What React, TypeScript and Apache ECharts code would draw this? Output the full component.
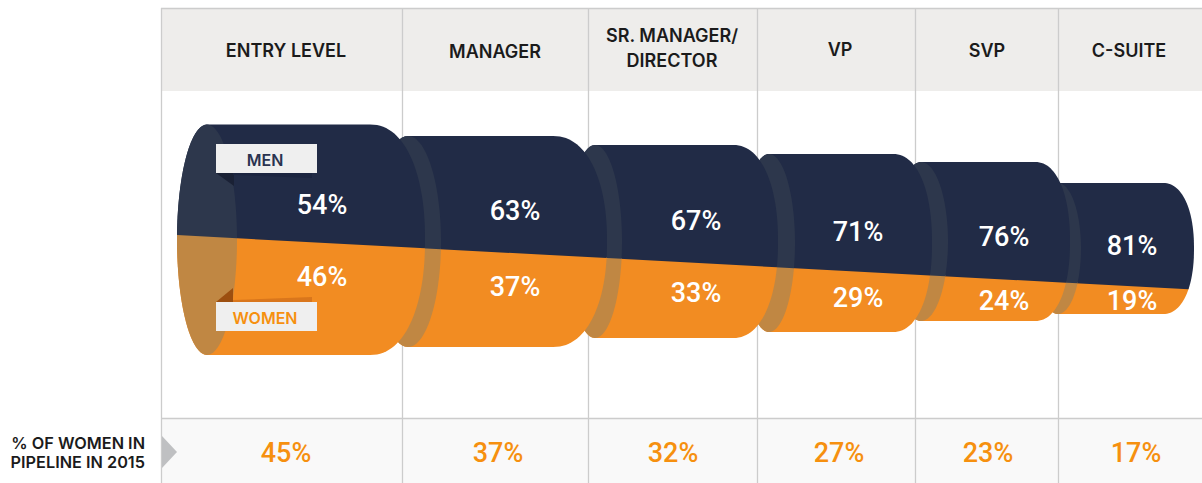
import React, { useEffect, useRef } from "react";
import * as echarts from "echarts";

// ---- chart values ----
const categories = ["ENTRY LEVEL", "MANAGER", "SR. MANAGER/\nDIRECTOR", "VP", "SVP", "C-SUITE"];
const menShare = [54, 63, 67, 71, 76, 81];
const womenShare = [46, 37, 33, 29, 24, 19];
const pipeline2015 = [45, 37, 32, 27, 23, 17];

// ---- layout, in axis units (the axes map 1:1 on the page) ----
const W = 1202;
const H = 483;
const COL_EDGES = [162, 402, 588, 757, 915, 1058, W];
const HEADER_X = [286, 495, 672, 840, 987, 1129];
const HEADER_Y = [50, 51, 48, 49, 50, 50];
const VALUE_X = [322, 515, 696, 858, 1004, 1132];
const BOTTOM_X = [286, 498, 673, 839, 988, 1136];
const MEN_Y = [205, 211, 221, 232, 237, 246];
const WOMEN_Y = [277, 287, 293, 298, 301, 301];
const TOPS = [124.5, 136, 145, 154, 162, 183];
const BOTTOMS = [355, 347, 338, 332, 321, 314];
const CAP_X = [207, 408, 595, 769, 921, 1058];
const CAP_R = [30, 33, 27, 26, 27, 23];
const FLAT_END = [370, 553, 733, 893, 1035, 1163];
const RIGHT_MAX = [425, 607, 778, 932, 1070, 1194];
const SPLIT_Y0 = 235;
const SPLIT_X0 = 177;
const SPLIT_SLOPE = 0.0537;

const NAVY = "#212b46";
const ORANGE = "#f28c22";
const NAVY_CAP = "#2d374c";
const ORANGE_CAP = "#c08743";
const GRID_LINE = "#cccccc";
const PIPE_ORANGE = "#f6900f";
const FONT = "Inter, Lato, 'Noto Sans', sans-serif";
const PCT_FONT = "Roboto, Inter, 'Noto Sans', sans-serif";

type P = [number, number];

const splitY = (x: number) => SPLIT_Y0 + SPLIT_SLOPE * (x - SPLIT_X0);

// keep the part of a polygon on one side of the men/women line (sign -1 above, +1 below)
function clipSide(pts: P[], sign: number, overlap = 0): P[] {
  const out: P[] = [];
  const d = (p: P) => sign * (p[1] - splitY(p[0])) + overlap;
  for (let i = 0; i < pts.length; i++) {
    const a = pts[i];
    const b = pts[(i + 1) % pts.length];
    const da = d(a);
    const db = d(b);
    if (da >= 0) out.push(a);
    if (da < 0 !== db < 0) {
      const t = da / (da - db);
      out.push([a[0] + (b[0] - a[0]) * t, a[1] + (b[1] - a[1]) * t]);
    }
  }
  return out;
}

function quarterArc(cx: number, cy: number, rx: number, ry: number, from: number, to: number, n = 2): P[] {
  const pts: P[] = [];
  const steps = 60;
  for (let i = 0; i <= steps; i++) {
    const a = from + ((to - from) * i) / steps;
    const c = Math.cos(a);
    const s = Math.sin(a);
    pts.push([
      cx + rx * Math.sign(c) * Math.pow(Math.abs(c), 2 / n),
      cy + ry * Math.sign(s) * Math.pow(Math.abs(s), 2 / n),
    ]);
  }
  return pts;
}

function renderBands(_: any, api: any) {
  const i = api.value(0);
  const [x0, y0] = api.coord([COL_EDGES[i], 9]);
  const [x1] = api.coord([COL_EDGES[i + 1], 9]);
  const [, y91] = api.coord([0, 91]);
  const [, y418] = api.coord([0, 418]);
  const [, yEnd] = api.coord([0, H]);
  return {
    type: "group",
    children: [
      { type: "rect", shape: { x: x0, y: y0, width: x1 - x0, height: y91 - y0 }, style: { fill: "#eeedeb" } },
      { type: "rect", shape: { x: x0, y: y418, width: x1 - x0, height: yEnd - y418 }, style: { fill: "#f9f9f9" } },
    ],
  };
}

function renderRules(_: any, api: any) {
  const i = api.value(0);
  const lineX = Math.round(api.coord([COL_EDGES[i + 1], 0])[0]) + 0.5;
  const [, y0] = api.coord([0, 8]);
  const [, yEnd] = api.coord([0, H]);
  if (i === categories.length - 1) return { type: "group", children: [] };
  return { type: "line", shape: { x1: lineX, y1: y0, x2: lineX, y2: yEnd }, style: { stroke: GRID_LINE, lineWidth: 1.3 } };
}

function renderTableText(_: any, api: any) {
  const i = api.value(0);
  return {
    type: "group",
    children: [
      {
        type: "text",
        style: {
          text: categories[i],
          x: api.coord([HEADER_X[i], 0])[0],
          y: api.coord([0, HEADER_Y[i]])[1],
          fill: "#1b1b1b",
          fontFamily: FONT,
          fontWeight: 600,
          fontSize: 18,
          lineHeight: 25,
          align: "center",
          verticalAlign: "middle",
        },
      },
      {
        type: "text",
        style: {
          text: api.value(1) + "%",
          x: api.coord([BOTTOM_X[i], 0])[0],
          y: api.coord([0, 453])[1],
          fill: PIPE_ORANGE,
          fontFamily: PCT_FONT,
          fontWeight: 500,
          fontSize: 27,
          align: "center",
          verticalAlign: "middle",
        },
      },
    ],
  };
}

function renderCylinder(_: any, api: any) {
  const i = api.value(0);
  const top = TOPS[i];
  const bottom = BOTTOMS[i];
  const mid = (top + bottom) / 2;
  const ry = (bottom - top) / 2;
  const cx = CAP_X[i];
  const rx = CAP_R[i];
  const fe = FLAT_END[i];
  const rr = RIGHT_MAX[i] - fe;
  const toPx = (p: P): P => api.coord(p);
  // outline: left half of the cap, bottom edge, rounded right end
  const body: P[] = [
    ...quarterArc(cx, mid, rx, ry, -Math.PI / 2, -Math.PI, 2),
    ...quarterArc(cx, mid, rx, ry, Math.PI, Math.PI / 2, 2),
    ...quarterArc(fe, mid, rr, ry, Math.PI / 2, -Math.PI / 2, 2.2),
  ];
  const cap: P[] = [
    ...quarterArc(cx, mid, rx, ry, -Math.PI / 2, -Math.PI * 1.5, 2),
    ...quarterArc(cx, mid, rx, ry, Math.PI / 2, -Math.PI / 2, 2),
  ];
  const poly = (pts: P[], fill: string) => ({
    type: "polygon",
    shape: { points: pts.map(toPx) },
    style: { fill },
  });
  return {
    type: "group",
    children: [
      poly(clipSide(body, 1, 1), ORANGE),
      poly(clipSide(body, -1), NAVY),
      poly(clipSide(cap, 1, 1), ORANGE_CAP),
      poly(clipSide(cap, -1), NAVY_CAP),
    ],
  };
}

function renderShares(_: any, api: any) {
  const i = api.value(0);
  const label = (value: number, y: number) => ({
    type: "text",
    style: {
      text: value + "%",
      x: api.coord([VALUE_X[i], 0])[0],
      y: api.coord([0, y])[1],
      fill: "#ffffff",
      fontFamily: PCT_FONT,
      fontWeight: 500,
      fontSize: 27,
      align: "center",
      verticalAlign: "middle",
    },
  });
  return { type: "group", children: [label(api.value(1), MEN_Y[i]), label(api.value(2), WOMEN_Y[i])] };
}

export default function App() {
  const ref = useRef<HTMLDivElement>(null);
  useEffect(() => {
    if (!ref.current) return;
    const chart = echarts.init(ref.current, undefined, { renderer: "svg" });
    const hidden = { show: false };
    const order = categories.map((_, i) => i);
    const tableData = order.map((i) => [i, pipeline2015[i]]);
    const shareData = order.map((i) => [i, menShare[i], womenShare[i]]);
    const ribbon = (y: number, text: string, color: string) => [
      { type: "rect", z: 10, shape: { x: 216, y, width: 101, height: 29 }, style: { fill: "#efefef" } },
      {
        type: "text",
        z: 11,
        x: 265,
        y: y + 16,
        style: {
          text,
          fill: color,
          fontFamily: FONT,
          fontWeight: 600,
          fontSize: 16,
          align: "center",
          verticalAlign: "middle",
        },
      },
    ];
    const shadow = (points: number[][], fill: string) => ({ type: "polygon", z: 9, shape: { points }, style: { fill } });
    const frame = (x1: number, y1: number, x2: number, y2: number) => ({
      type: "line",
      z: 3,
      shape: { x1, y1, x2, y2 },
      style: { stroke: GRID_LINE, lineWidth: 1.3 },
    });
    chart.setOption({
      animation: false,
      tooltip: { show: false },
      grid: { left: 0, top: 0, width: W, height: H },
      xAxis: { type: "value", min: 0, max: W, ...hidden },
      yAxis: { type: "value", min: 0, max: H, inverse: true, ...hidden },
      series: [
        { type: "custom", z: 1, silent: true, clip: false, renderItem: renderBands, data: tableData },
        { type: "custom", z: 2, silent: true, clip: false, renderItem: renderRules, data: tableData },
        { type: "custom", z: 3, silent: true, clip: false, renderItem: renderTableText, data: tableData },
        {
          type: "custom",
          z: 4,
          silent: true,
          clip: false,
          renderItem: renderCylinder,
          data: [...shareData].reverse(),
        },
        { type: "custom", z: 5, silent: true, clip: false, renderItem: renderShares, data: shareData },
      ],
      graphic: [
        frame(161, 8.5, W, 8.5),
        frame(161, 418.5, W, 418.5),
        frame(161.5, 8, 161.5, H),
        { type: "polygon", z: 3, shape: { points: [[162, 436], [177, 452], [162, 468]] }, style: { fill: "#bfc0c2" } },
        {
          type: "text",
          z: 3,
          x: 145,
          y: 452,
          style: {
            text: "% OF WOMEN IN\nPIPELINE IN 2015",
            fill: "#1b1b1b",
            fontFamily: FONT,
            fontWeight: 600,
            fontSize: 16.3,
            lineHeight: 19,
            align: "right",
            verticalAlign: "middle",
          },
        },
        shadow([[216, 173], [234, 186], [234, 173]], "#1a2135"),
        shadow([[233, 173], [312, 173], [312, 178], [233, 175]], "#1c2540"),
        shadow([[216, 302], [233, 288], [233, 302]], "#9c4f10"),
        shadow([[233, 302], [312, 302], [312, 297], [233, 300]], "#d9761c"),
        ...ribbon(144, "MEN", "#2a3350"),
        ...ribbon(302, "WOMEN", PIPE_ORANGE),
      ],
    });
    return () => chart.dispose();
  }, []);
  return <div ref={ref} style={{ position: "absolute", left: 0, top: 0, width: W, height: H, overflow: "hidden" }} />;
}
